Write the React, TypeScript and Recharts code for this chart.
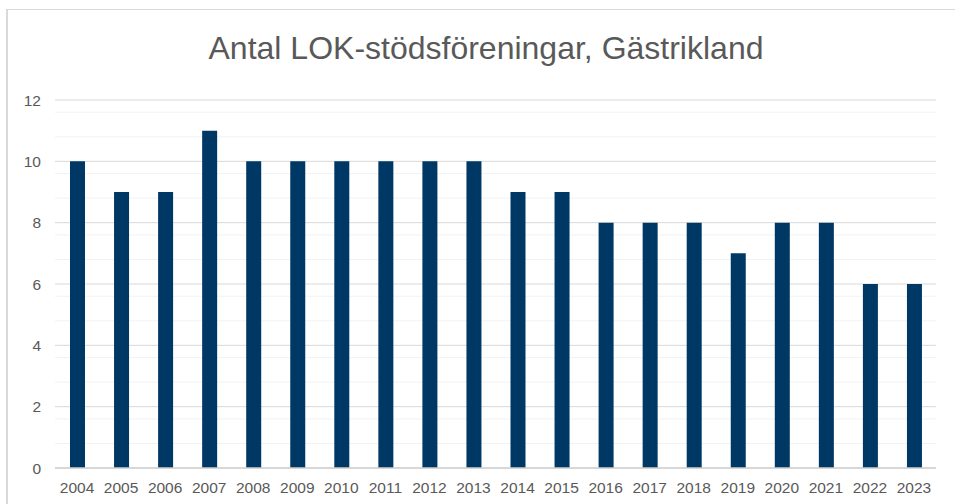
import React from "react";
import { BarChart, Bar, XAxis, YAxis, CartesianGrid } from "recharts";

const years = ["2004","2005","2006","2007","2008","2009","2010","2011","2012","2013","2014","2015","2016","2017","2018","2019","2020","2021","2022","2023"];
const counts = [10,9,9,11,10,10,10,10,10,10,9,9,8,8,8,7,8,8,6,6];
const majorTicks = [0,2,4,6,8,10,12];
const minorTicks = [0.4,0.8,1.2,1.6,2.4,2.8,3.2,3.6,4.4,4.8,5.2,5.6,6.4,6.8,7.2,7.6,8.4,8.8,9.2,9.6,10.4,10.8,11.2,11.6];
const title = "Antal LOK-stödsföreningar, Gästrikland";

const data = years.map((y, i) => ({ year: y, value: counts[i] }));

const FONT = "'Liberation Sans', Arial, sans-serif";
const TXT = "#595959";

export default function App() {
  return (
    <div style={{ position: "absolute", left: 0, top: 0, width: 955, height: 504, overflow: "hidden", background: "#fff", fontFamily: FONT }}>
      <div style={{ position: "absolute", left: 0, top: 30, width: 972, textAlign: "center", fontSize: 32, color: TXT, lineHeight: "36px", whiteSpace: "nowrap" }}>{title}</div>
      <div style={{ position: "absolute", left: 0, top: 0 }}>
        <BarChart width={955} height={504} data={data} margin={{ top: 100, right: 19, bottom: 6, left: 0 }}>
          <CartesianGrid vertical={false} horizontalValues={minorTicks} stroke="#f2f2f2" strokeWidth={1} />
          <CartesianGrid vertical={false} horizontalValues={majorTicks} stroke="#d9d9d9" strokeWidth={1} />
          <XAxis dataKey="year" tickLine={false} axisLine={{ stroke: "#d0d0d0", strokeWidth: 1.5 }} tick={{ fill: TXT, fontSize: 15.5, fontFamily: FONT }} tickMargin={8} height={30} interval={0} />
          <YAxis domain={[0, 12]} ticks={majorTicks} tickLine={false} axisLine={false} width={55} tickMargin={8} tick={{ fill: TXT, fontSize: 15.5, fontFamily: FONT }} />
          <Bar dataKey="value" fill="#003865" barSize={15} isAnimationActive={false} />
        </BarChart>
      </div>
      <div style={{ position: "absolute", left: 6, top: 9, width: 960, height: 1, background: "#d9d9d9", pointerEvents: "none" }} />
      <div style={{ position: "absolute", left: 6, top: 9, width: 2, height: 500, background: "#d9d9d9", pointerEvents: "none" }} />
    </div>
  );
}
